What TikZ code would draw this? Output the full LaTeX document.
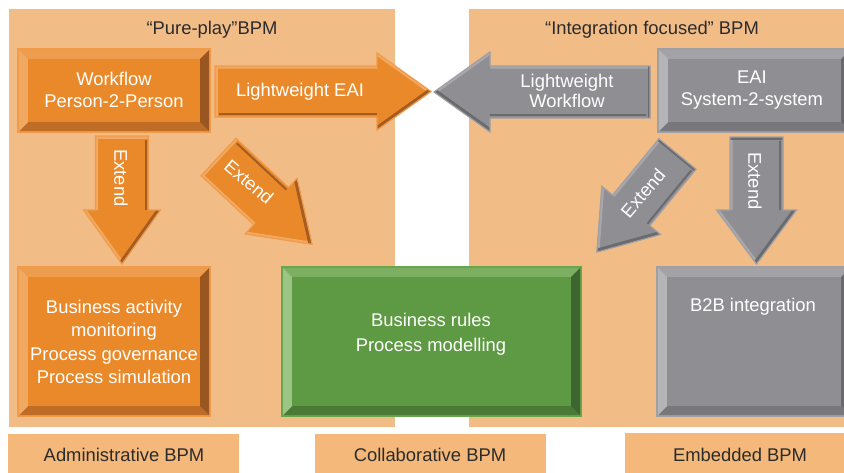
\documentclass[tikz,border=0pt]{standalone}
\usepackage{fontspec}
\setmainfont{Liberation Sans}
\usetikzlibrary{calc}

\definecolor{panelbg}{HTML}{F2BC87}
\definecolor{labelbg}{HTML}{F4B97A}
\definecolor{titletext}{HTML}{2B2B2B}
% orange family
\definecolor{obase}{HTML}{E9892A}
\definecolor{oborder}{HTML}{EF9B4A}
\definecolor{otop}{HTML}{EE9D4E}
\definecolor{oleft}{HTML}{F1A861}
\definecolor{obottom}{HTML}{BF6C26}
\definecolor{oright}{HTML}{9A5620}
\definecolor{olight}{HTML}{F2A962}
\definecolor{odark}{HTML}{A55C22}
% green family
\definecolor{gbase}{HTML}{5E9A43}
\definecolor{gborder}{HTML}{68A64C}
\definecolor{gtop}{HTML}{7DAF62}
\definecolor{gleft}{HTML}{9AC585}
\definecolor{gbottom}{HTML}{4A7A36}
\definecolor{gright}{HTML}{3D6530}
% grey family
\definecolor{ybase}{HTML}{8F8E93}
\definecolor{yborder}{HTML}{A09FA3}
\definecolor{ytop}{HTML}{A3A2A6}
\definecolor{yleft}{HTML}{B5B4B7}
\definecolor{ybottom}{HTML}{78777B}
\definecolor{yright}{HTML}{6A696D}
\definecolor{ylight}{HTML}{A8A7AB}
\definecolor{ydark}{HTML}{6B6A6E}

% bevelled box: x1,y1,x2,y2,colour prefix
\newcommand{\bevelbox}[5]{%
  \fill[#5border] (#1,#2) rectangle (#3,#4);
  \fill[#5top] ({#1+2},{#2+2}) -- ({#3-2},{#2+2}) -- ({#3-11},{#2+11}) -- ({#1+11},{#2+11}) -- cycle;
  \fill[#5bottom] ({#1+2},{#4-2}) -- ({#3-2},{#4-2}) -- ({#3-11},{#4-11}) -- ({#1+11},{#4-11}) -- cycle;
  \fill[#5left] ({#1+2},{#2+2}) -- ({#1+11},{#2+11}) -- ({#1+11},{#4-11}) -- ({#1+2},{#4-2}) -- cycle;
  \fill[#5right] ({#3-2},{#2+2}) -- ({#3-11},{#2+11}) -- ({#3-11},{#4-11}) -- ({#3-2},{#4-2}) -- cycle;
  \fill[#5base] ({#1+11},{#2+11}) rectangle ({#3-11},{#4-11});
}

% block arrow: tail coordinate, angle, side (1/-1), length, shaft half width,
% head half width, head length, colour prefix, tail band colour
\newcommand{\blockarrow}[9]{%
  \pgfmathsetmacro\Lb{#4-#7}%
  \pgfmathsetmacro\Wi{#5-3}%
  \begin{scope}[shift={(#1)},rotate=#2,yscale=#3]
    \def\shp{(0pt,#5pt) -- (\Lb pt,#5pt) -- (\Lb pt,#6pt) -- (#4pt,0pt) -- (\Lb pt,-#6pt) -- (\Lb pt,-#5pt) -- (0pt,-#5pt) -- cycle}%
    \fill[#8base] \shp;
    \begin{scope}
      \clip \shp;
      \draw[#8light, line width=5pt] (0pt,#5pt) -- (\Lb pt,#5pt) (\Lb pt,#6pt) -- (#4pt,0pt);
      \draw[#8dark, line width=7pt] (\Lb pt,-#6pt) -- (#4pt,0pt);
      \draw[#9, line width=5pt] (0pt,#5pt) -- (0pt,-#5pt);
    \end{scope}
    \draw[#8dark, line width=2pt] (4pt,-\Wi pt) -- (\Lb pt,-\Wi pt);
    \draw[#8border, line width=1.2pt, line join=miter] \shp;
  \end{scope}}

\tikzset{
  boxtext/.style={text=white, align=center, inner sep=0pt, font=\fontsize{18.4}{22.5}\selectfont},
  arrowtext/.style={text=white, align=center, inner sep=0pt, font=\fontsize{18.4}{19.5}\selectfont},
  titlestyle/.style={text=titletext, inner sep=0pt, font=\fontsize{18.4}{22}\selectfont}
}

\begin{document}
\begin{tikzpicture}[x=1pt,y=-1pt]
\useasboundingbox (0,0) rectangle (844,472);
\clip (0,0) rectangle (844,472);
\fill[white] (0,0) rectangle (844,472);

% panels
\fill[panelbg] (9,9) rectangle (395,427);
\fill[panelbg] (469,9) rectangle (850,427);

% bottom label boxes
\fill[labelbg] (8,434) rectangle (239,475);
\fill[labelbg] (315,434) rectangle (546,475);
\fill[labelbg] (625,433) rectangle (855,475);
\node[titlestyle] (lab1) at (124,455) {Administrative BPM};
\node[titlestyle] (lab2) at (430,455) {Collaborative BPM};
\node[titlestyle] (lab3) at (740,455) {Embedded BPM};

% titles
\node[titlestyle] (t1) at (212,30) {“Pure-play”BPM};
\node[titlestyle] (t2) at (652,30) {“Integration focused” BPM};

% boxes
\bevelbox{17}{48}{211}{133}{o}
\bevelbox{657}{48}{852}{133}{y}
\bevelbox{17}{266}{211}{417}{o}
\bevelbox{281}{266}{582}{417}{g}
\bevelbox{656}{266}{852}{417}{y}

\node[boxtext] (wf) at (114,90) {Workflow\\Person-2-Person};
\node[boxtext] (eai) at (752,90) {EAI\\System-2-system};
\node[boxtext, font=\fontsize{18.4}{23.5}\selectfont] (bam) at (114,342) {Business activity\\monitoring\\Process governance\\Process simulation};
\node[boxtext, font=\fontsize{18.4}{25}\selectfont] (brm) at (431,334) {Business rules\\Process modelling};
\node[boxtext] (b2b) at (753,307) {B2B integration};

% arrow tails
\coordinate (a1) at (215,91.5);
\coordinate (a2) at (650,92);
\coordinate (a3) at (122,136);
\coordinate (a4) at (756.5,137);
\coordinate (a5) at (218.5,157);
\coordinate (a6) at (677.5,154);

\blockarrow{a1}{0}{1}{216}{25.5}{38.5}{54}{o}{olight}
\blockarrow{a2}{180}{-1}{216}{26}{40}{56}{y}{ydark}
\blockarrow{a3}{-90}{-1}{128}{26.5}{38.5}{54}{o}{olight}
\blockarrow{a4}{-90}{-1}{127}{26.5}{40}{54}{y}{ydark}
\blockarrow{a5}{-43}{-1}{128}{25.5}{38}{56}{o}{olight}
\blockarrow{a6}{-129.4}{-1}{127}{24}{38}{54}{y}{ydark}

\node[arrowtext] (leai) at (300,92) {Lightweight EAI};
\node[arrowtext] (lwf) at (567,91) {Lightweight\\Workflow};
\node[arrowtext, rotate=-90] (ext1) at (121,178) {Extend};
\node[arrowtext, rotate=-90] (ext2) at (755,181) {Extend};
\node[arrowtext, rotate=-40] (ext3) at (249,182) {Extend};
\node[arrowtext, rotate=49.5] (ext4) at (643,193) {Extend};
\end{tikzpicture}
\end{document}
